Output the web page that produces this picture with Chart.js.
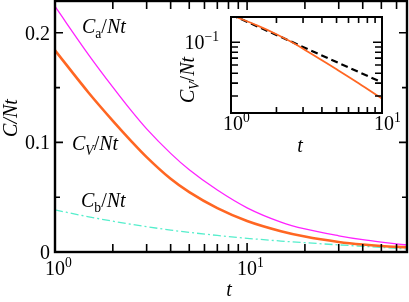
<!DOCTYPE html>
<html lang="en">
<head>
<meta charset="UTF-8">
<title>C/Nt against t</title>
<script src="https://cdn.jsdelivr.net/npm/chart.js"></script>
<style>
    body { margin: 0; background: #fff; }
    #wrap { position: relative; width: 409px; height: 302px; }
    #main { position: absolute; left: 0; top: 0; }
    #inset { position: absolute; left: 170px; top: 0; }
</style>
</head>
<body>
<div id="wrap">
    <canvas id="main" width="409" height="302"></canvas>
    <canvas id="inset" width="230" height="160"></canvas>
</div>
<script>
// main panel data
const tVals = [1, 1.5, 2, 2.5, 3, 4, 5, 7, 10, 15, 20, 30, 40, 50, 68];
const caVals = [0.224, 0.1797, 0.1504, 0.1287, 0.1123, 0.0900, 0.0750, 0.0565, 0.0403, 0.0273, 0.0210, 0.0148, 0.0112, 0.0090, 0.0064];
const cvVals = [0.184, 0.1451, 0.1197, 0.1010, 0.0866, 0.0668, 0.0546, 0.0400, 0.0283, 0.0190, 0.0141, 0.0092, 0.0068, 0.0055, 0.0043];
const cbVals = [0.0384, 0.0321, 0.0281, 0.0252, 0.0231, 0.0200, 0.0179, 0.0151, 0.0125, 0.0100, 0.0085, 0.0065, 0.0052, 0.0042, 0.0027];

// inset: C_V/Nt for t <= 10 and the dashed power-law guide
const tFit = [1, 10];
const fitVals = [0.186, 0.0406];

// tick marks
const mainXMinor = [2, 3, 4, 5, 6, 7, 8, 9, 20, 30, 40, 50, 60];
const mainXMajor = [10];
const mainYMajor = [0.1, 0.2];
const mainYMinor = [0.05, 0.15];
const mainYLabels = ['0', '0.1', '0.2'];
const mainYLabelVals = [0, 0.1, 0.2];
const insetXMinor = [2, 3, 4, 5, 6, 7, 8, 9];
const insetYMajor = [0.1];
const insetYMinor = [0.03, 0.04, 0.05, 0.06, 0.07, 0.08, 0.09];

const FONT = '"Liberation Serif", "Times New Roman", serif';

function pts(xs, ys) {
    return xs.map((x, i) => ({ x: x, y: ys[i] }));
}

// draws a run of text pieces: {t, it (italic), sub, sup}
function richWidth(ctx, parts, size) {
    let w = 0;
    parts.forEach(p => {
        const s = (p.sub || p.sup) ? size * 0.68 : size;
        ctx.font = (p.it ? 'italic ' : '') + s + 'px ' + FONT;
        w += ctx.measureText(p.t).width;
    });
    return w;
}
function drawRich(ctx, x, y, parts, size, align) {
    const w = richWidth(ctx, parts, size);
    if (align === 'center') x -= w / 2;
    if (align === 'right') x -= w;
    ctx.textAlign = 'left';
    ctx.textBaseline = 'alphabetic';
    ctx.fillStyle = '#000';
    parts.forEach(p => {
        const s = (p.sub || p.sup) ? size * 0.68 : size;
        ctx.font = (p.it ? 'italic ' : '') + s + 'px ' + FONT;
        let dy = 0;
        if (p.sub) dy = size * 0.25;
        if (p.sup) dy = -size * 0.42;
        ctx.fillText(p.t, x, y + dy);
        x += ctx.measureText(p.t).width;
    });
}
function pow10(exp) {
    return [{ t: '10' }, { t: exp, sup: true }];
}

// frame + inward ticks on all four sides
function drawFrame(chart, ticks) {
    const ctx = chart.ctx;
    const a = chart.chartArea;
    const xs = chart.scales.x, ys = chart.scales.y;
    ctx.save();
    ctx.strokeStyle = '#000';
    ctx.lineWidth = 1.6;
    ctx.beginPath();
    ticks.x.forEach(([v, len]) => {
        const px = xs.getPixelForValue(v);
        ctx.moveTo(px, a.bottom); ctx.lineTo(px, a.bottom - len);
        ctx.moveTo(px, a.top); ctx.lineTo(px, a.top + len);
    });
    ticks.y.forEach(([v, len]) => {
        const py = ys.getPixelForValue(v);
        ctx.moveTo(a.left, py); ctx.lineTo(a.left + len, py);
        ctx.moveTo(a.right, py); ctx.lineTo(a.right - len, py);
    });
    ctx.stroke();
    ctx.lineWidth = ticks.frame;
    ctx.strokeRect(a.left, a.top, a.right - a.left, a.bottom - a.top);
    ctx.restore();
}

const mainDecor = {
    id: 'mainDecor',
    afterDatasetsDraw(chart) {
        const ctx = chart.ctx;
        const a = chart.chartArea;
        const xs = chart.scales.x, ys = chart.scales.y;
        drawFrame(chart, {
            frame: 2.4,
            x: mainXMinor.map(v => [v, 8]).concat(mainXMajor.map(v => [v, 9])),
            y: mainYMajor.map(v => [v, 8]).concat(mainYMinor.map(v => [v, 5]))
        });
        ctx.save();
        // y tick labels
        mainYLabels.forEach((lab, i) => {
            drawRich(ctx, a.left - 5, ys.getPixelForValue(mainYLabelVals[i]) + 7, [{ t: lab }], 20, 'right');
        });
        // x tick labels, the "10" centred on the tick
        [[1, '0'], [10, '1']].forEach(([v, e]) => {
            ctx.font = '20px ' + FONT;
            const w10 = ctx.measureText('10').width;
            drawRich(ctx, xs.getPixelForValue(v) - w10 / 2, 275, pow10(e), 20, 'left');
        });
        // axis titles
        drawRich(ctx, 229, 296, [{ t: 't', it: true }], 20, 'center');
        ctx.save();
        ctx.translate(17, 118);
        ctx.rotate(-Math.PI / 2);
        drawRich(ctx, 0, 0, [{ t: 'C/Nt', it: true }], 20, 'center');
        ctx.restore();
        // curve labels
        drawRich(ctx, 82, 33, [{ t: 'C', it: true }, { t: 'a', sub: true }, { t: '/' }, { t: 'Nt', it: true }], 20, 'left');
        drawRich(ctx, 72, 150, [{ t: 'C', it: true }, { t: 'V', sub: true, it: true }, { t: '/' }, { t: 'Nt', it: true }], 20, 'left');
        drawRich(ctx, 81, 207, [{ t: 'C', it: true }, { t: 'b', sub: true }, { t: '/' }, { t: 'Nt', it: true }], 20, 'left');
        ctx.restore();
    }
};

const insetDecor = {
    id: 'insetDecor',
    beforeDatasetsDraw(chart) {
        const a = chart.chartArea;
        chart.ctx.save();
        chart.ctx.fillStyle = '#fff';
        chart.ctx.fillRect(a.left, a.top, a.right - a.left, a.bottom - a.top);
        chart.ctx.restore();
    },
    afterDatasetsDraw(chart) {
        const ctx = chart.ctx;
        const a = chart.chartArea;
        const xs = chart.scales.x, ys = chart.scales.y;
        drawFrame(chart, {
            frame: 2,
            x: insetXMinor.map(v => [v, 6]),
            y: insetYMajor.map(v => [v, 9]).concat(insetYMinor.map(v => [v, 7]))
        });
        ctx.save();
        drawRich(ctx, a.left - 12, ys.getPixelForValue(0.1) + 7, pow10('\u22121'), 20, 'right');
        [[1, '0'], [10, '1']].forEach(([v, e]) => {
            ctx.font = '20px ' + FONT;
            const w10 = ctx.measureText('10').width;
            drawRich(ctx, xs.getPixelForValue(v) - w10 / 2 + 2, 130, pow10(e), 20, 'left');
        });
        drawRich(ctx, 130, 152, [{ t: 't', it: true }], 20, 'center');
        ctx.save();
        ctx.translate(24, 80);
        ctx.rotate(-Math.PI / 2);
        drawRich(ctx, 0, 0, [{ t: 'C', it: true }, { t: 'V', sub: true, it: true }, { t: '/' }, { t: 'Nt', it: true }], 20, 'center');
        ctx.restore();
        ctx.restore();
    }
};

function hiddenAxis(extra) {
    return Object.assign({
        ticks: { display: false },
        grid: { display: false },
        border: { display: false }
    }, extra);
}

const lineBase = { pointRadius: 0, fill: false, cubicInterpolationMode: 'monotone' };

new Chart(document.getElementById('main'), {
    type: 'line',
    data: {
        datasets: [
            Object.assign({ label: 'Ca/Nt', data: pts(tVals, caVals), borderColor: '#ff22ff', borderWidth: 1.3 }, lineBase),
            Object.assign({ label: 'CV/Nt', data: pts(tVals, cvVals), borderColor: '#ff6622', borderWidth: 2.6 }, lineBase),
            Object.assign({ label: 'Cb/Nt', data: pts(tVals, cbVals), borderColor: '#55eecc', borderWidth: 1.3, borderDash: [8, 3, 2, 3] }, lineBase)
        ]
    },
    options: {
        responsive: false,
        animation: false,
        layout: { padding: { top: 1, right: 2, left: 0, bottom: 0 } },
        plugins: { legend: { display: false }, tooltip: { enabled: false } },
        scales: {
            x: hiddenAxis({ type: 'logarithmic', min: 1, max: 68, afterFit: s => { s.height = 50; } }),
            y: hiddenAxis({ type: 'linear', min: 0, max: 0.229, afterFit: s => { s.width = 55; } })
        }
    },
    plugins: [mainDecor]
});

new Chart(document.getElementById('inset'), {
    type: 'line',
    data: {
        datasets: [
            Object.assign({ label: 'CV/Nt', data: pts(tVals.slice(0, 9), cvVals.slice(0, 9)), borderColor: '#ff6622', borderWidth: 1.8 }, lineBase),
            Object.assign({ label: 'fit', data: pts(tFit, fitVals), borderColor: '#000', borderWidth: 2.2, borderDash: [7, 4] }, lineBase)
        ]
    },
    options: {
        responsive: false,
        animation: false,
        layout: { padding: { top: 17, right: 18, left: 0, bottom: 0 } },
        plugins: { legend: { display: false }, tooltip: { enabled: false } },
        scales: {
            x: hiddenAxis({ type: 'logarithmic', min: 1, max: 10, afterFit: s => { s.height = 47; } }),
            y: hiddenAxis({ type: 'logarithmic', min: 0.0205, max: 0.176, afterFit: s => { s.width = 61; } })
        }
    },
    plugins: [insetDecor]
});
</script>
</body>
</html>
